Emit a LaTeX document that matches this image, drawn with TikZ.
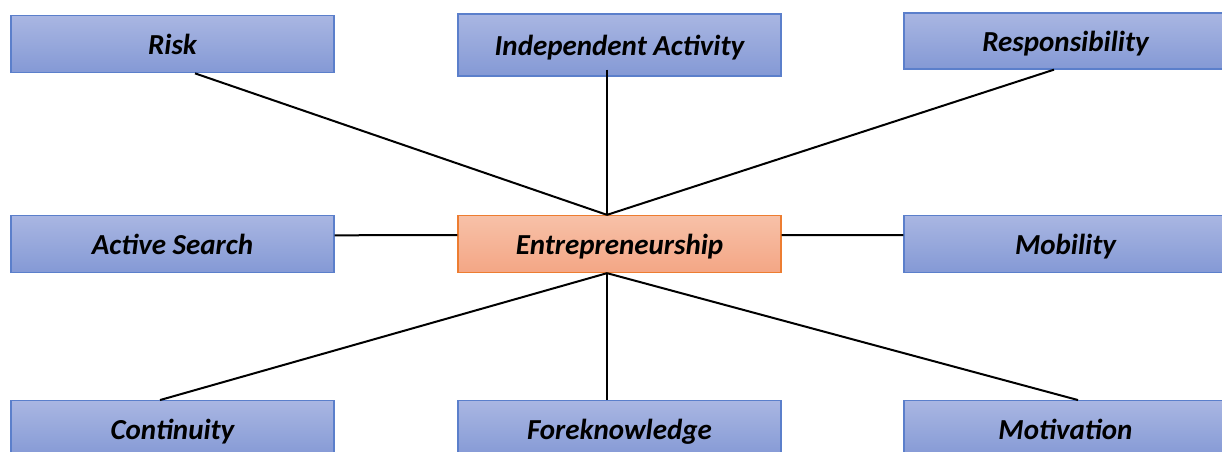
\documentclass[tikz,border=0pt]{standalone}
\usepackage{fontspec}
\setmainfont{Carlito}
\definecolor{boxtop}{HTML}{A9B6E2}
\definecolor{boxbot}{HTML}{8499D5}
\definecolor{boxline}{HTML}{5B7FCB}
\definecolor{hubtop}{HTML}{F7C1A8}
\definecolor{hubbot}{HTML}{F4A685}
\definecolor{hubline}{HTML}{ED7D31}
\tikzset{
  topic/.style={draw=boxline, line width=1.3pt, top color=boxtop, bottom color=boxbot,
    minimum width=323pt, minimum height=57pt, inner sep=0pt,
    text height=22pt, text depth=2pt,
    font=\fontsize{29}{34}\selectfont\bfseries\itshape, text=black},
  hub/.style={topic, draw=hubline, top color=hubtop, bottom color=hubbot},
  link/.style={line width=2pt, black}
}
\begin{document}
\begin{tikzpicture}[x=1pt,y=-1pt]
\useasboundingbox (0,0) rectangle (1222,451);
\clip (0,0) rectangle (1222,451);
\fill[white] (0,0) rectangle (1222,451);

% outer ring of topics
\node[topic] (risk)  at (172.5,44.2) {Risk};
\node[topic, minimum height=62pt] (indep) at (619.5,45) {Independent Activity};
\node[topic, minimum height=56pt] (resp)  at (1065.5,41) {Responsibility};
\node[topic] (search) at (172.5,244.3) {Active Search};
\node[hub]   (entre)  at (619.5,244) {Entrepreneurship};
\node[topic] (mob)    at (1065.5,244.2) {Mobility};
\node[topic] (cont)   at (172.5,429.2) {Continuity};
\node[topic] (fore)   at (619.5,429.2) {Foreknowledge};
\node[topic] (motiv)  at (1065.5,429.2) {Motivation};

% connectors from the hub
\coordinate (hubtop) at ([xshift=-12.5pt]entre.north);
\coordinate (hubbot) at ([xshift=-12.5pt]entre.south);
\draw[link] ([xshift=22.5pt]risk.south) -- (hubtop);
\draw[link] ([xshift=-12.5pt,yshift=7pt]indep.south) -- (hubtop);
\draw[link] ([xshift=-11.5pt]resp.south) -- (hubtop);
\draw[link] ([yshift=9pt]search.east) -- ([yshift=9pt]entre.west);
\draw[link] ([yshift=9pt]entre.east) -- ([yshift=9pt]mob.west);
\draw[link] (hubbot) -- ([xshift=-12.5pt]cont.north);
\draw[link] (hubbot) -- ([xshift=-12.5pt]fore.north);
\draw[link] (hubbot) -- ([xshift=12.5pt]motiv.north);
\end{tikzpicture}
\end{document}
